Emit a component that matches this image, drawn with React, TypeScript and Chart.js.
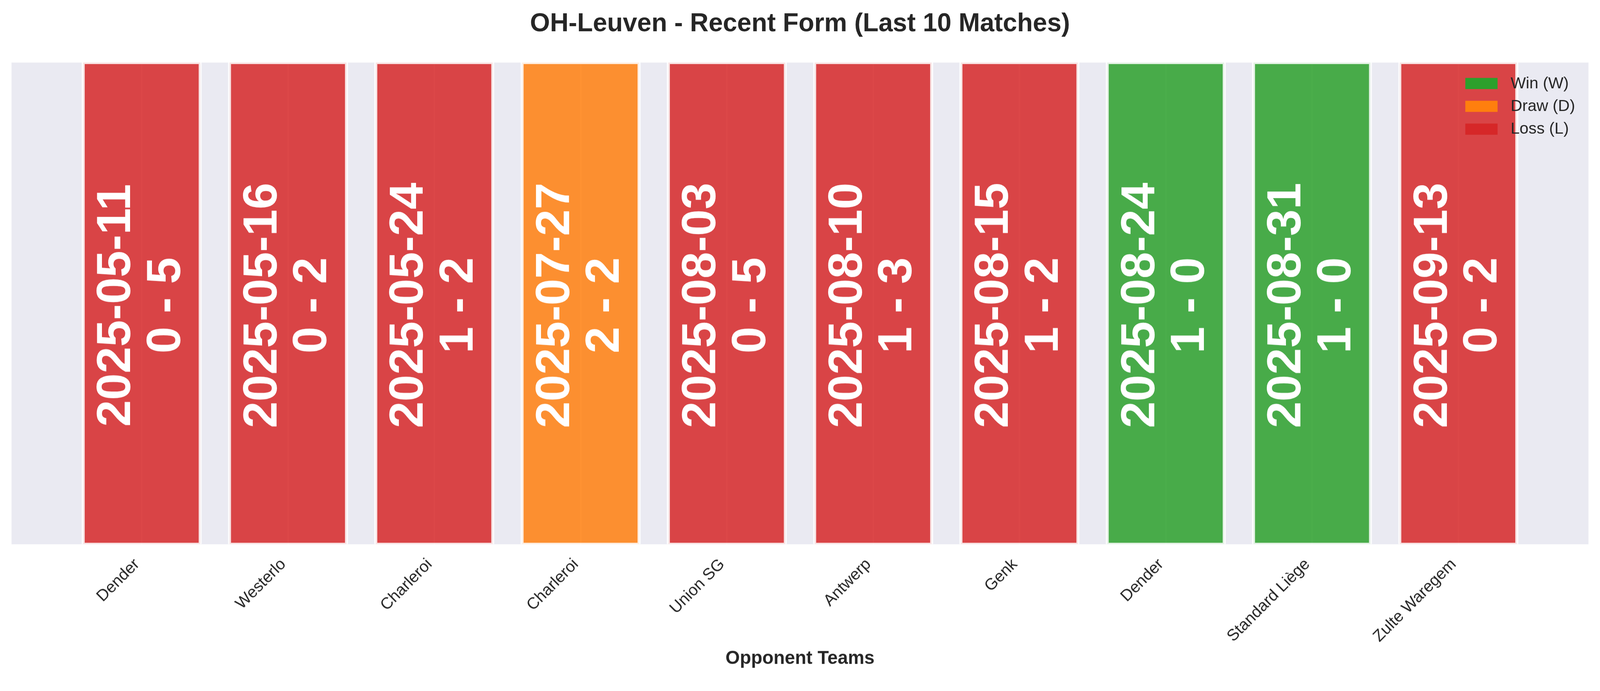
import React, { useEffect, useRef } from 'react';
import { Chart, registerables } from 'chart.js';

Chart.register(...registerables);

// ---------------- data ----------------
const teams = ['Dender', 'Westerlo', 'Charleroi', 'Charleroi', 'Union SG', 'Antwerp', 'Genk', 'Dender', 'Standard Liège', 'Zulte Waregem'];
const matchDates = ['2025-05-11', '2025-05-16', '2025-05-24', '2025-07-27', '2025-08-03', '2025-08-10', '2025-08-15', '2025-08-24', '2025-08-31', '2025-09-13'];
const scores = ['0 - 5', '0 - 2', '1 - 2', '2 - 2', '0 - 5', '1 - 3', '1 - 2', '1 - 0', '1 - 0', '0 - 2'];
const results = ['L', 'L', 'L', 'D', 'L', 'L', 'L', 'W', 'W', 'L'];
const barHeights = [1, 1, 1, 1, 1, 1, 1, 1, 1, 1];
const legendKeys = ['W', 'D', 'L'];
const legendLabels = ['Win (W)', 'Draw (D)', 'Loss (L)'];
const chartTitle = 'OH-Leuven - Recent Form (Last 10 Matches)';
const xAxisTitle = 'Opponent Teams';

// ---------------- style ----------------
const W = 4170;
const H = 1769;
const FONT = "'Liberation Sans', Arial, Helvetica, sans-serif";
const TEXT = '#262626';
const AX_BG = [234, 234, 242];
const BASE: Record<string, number[]> = { W: [44, 160, 44], D: [255, 127, 14], L: [214, 39, 40] };
const ALPHA = 0.85;
const AREA = { left: 30, right: 4140, top: 163, bottom: 1418 };
const X_MIN = -0.89;
const X_MAX = 9.89;
const UNIT_PX = (AREA.right - AREA.left) / (X_MAX - X_MIN);
const EDGE = 4;

const mix = (c: number[], under: number[], a: number) => c.map((v, i) => Math.round(a * v + (1 - a) * under[i]));
const rgb = (c: number[]) => `rgb(${c.join(',')})`;
const rgba = (c: number[], a: number) => `rgba(${c.join(',')},${a})`;
const faceOnBg = (k: string) => mix(BASE[k], AX_BG, ALPHA);
const innerEdge = (k: string) => mix([255, 255, 255], faceOnBg(k), ALPHA);

const bgPlugin = {
  id: 'axesBg',
  beforeDraw(chart: any) {
    const { ctx, chartArea } = chart;
    ctx.save();
    ctx.fillStyle = '#ffffff';
    ctx.fillRect(0, 0, chart.width, chart.height);
    ctx.fillStyle = rgb(AX_BG);
    ctx.fillRect(chartArea.left, chartArea.top, chartArea.right - chartArea.left, chartArea.bottom - chartArea.top);
    ctx.restore();
  },
};

const annotatePlugin = {
  id: 'annotate',
  afterDatasetsDraw(chart: any) {
    const { ctx } = chart;
    const meta = chart.getDatasetMeta(0);
    const ys = chart.scales.y;
    const cy = ys.getPixelForValue(0.5);
    ctx.save();
    ctx.fillStyle = '#ffffff';
    ctx.font = `bold 125px ${FONT}`;
    ctx.textAlign = 'center';
    ctx.textBaseline = 'alphabetic';
    meta.data.forEach((bar: any, i: number) => {
      ctx.save();
      ctx.translate(bar.x, cy + 5);
      ctx.rotate(-Math.PI / 2);
      ctx.fillText(matchDates[i], 0, -30);
      ctx.fillText(scores[i], 0, 100);
      ctx.restore();
    });
    ctx.restore();

    // legend (inside axes, upper right, no frame)
    ctx.save();
    ctx.font = `42px ${FONT}`;
    ctx.textAlign = 'left';
    ctx.textBaseline = 'middle';
    legendKeys.forEach((k, i) => {
      const yc = 217 + i * 59.5;
      ctx.fillStyle = rgb(BASE[k]);
      ctx.fillRect(3819, yc - 14, 84, 29);
      ctx.fillStyle = TEXT;
      ctx.fillText(legendLabels[i], 3937, yc + 1);
    });
    ctx.restore();
  },
  afterDraw(chart: any) {
    const { ctx, chartArea } = chart;
    const cx = (chartArea.left + chartArea.right) / 2;
    ctx.save();
    ctx.fillStyle = TEXT;
    ctx.textAlign = 'center';
    ctx.textBaseline = 'alphabetic';
    ctx.font = `bold 67px ${FONT}`;
    ctx.fillText(chartTitle, cx, 81);
    ctx.font = `bold 48px ${FONT}`;
    ctx.fillText(xAxisTitle, cx, 1730);
    ctx.restore();
  },
};

export default function App() {
  const ref = useRef<HTMLCanvasElement | null>(null);
  const fit = typeof window !== 'undefined' ? Math.min(window.innerWidth / W, window.innerHeight / H) : 1;
  useEffect(() => {
    document.body.style.margin = '0';
    document.body.style.overflow = 'hidden';
    const canvas = ref.current;
    if (!canvas) return;
    const dpr = (window.devicePixelRatio || 1) * fit;
    const points = barHeights.map((v, i) => ({ x: i, y: v }));
    const chart = new Chart(canvas, {
      type: 'bar',
      data: {
        datasets: [
          {
            label: 'form',
            data: points,
            backgroundColor: results.map((r) => rgba(BASE[r], ALPHA)),
            borderColor: results.map((r) => rgb(innerEdge(r))),
            borderWidth: EDGE,
            borderSkipped: false,
            barPercentage: 0.8,
            categoryPercentage: 1,
            grouped: false,
          } as any,
          {
            label: 'edge',
            data: points,
            backgroundColor: 'rgba(0,0,0,0)',
            borderColor: 'rgba(255,255,255,0.85)',
            borderWidth: EDGE,
            borderSkipped: false,
            barPercentage: 0.8 + (2 * EDGE) / UNIT_PX,
            categoryPercentage: 1,
            grouped: false,
          } as any,
        ],
      },
      options: {
        responsive: false,
        animation: false,
        devicePixelRatio: dpr,
        layout: { padding: { left: AREA.left, right: W - AREA.right, top: AREA.top, bottom: 0 } },
        plugins: {
          legend: { display: false },
          title: { display: false },
          tooltip: { enabled: false },
        },
        events: [],
        scales: {
          x: {
            type: 'linear',
            min: X_MIN,
            max: X_MAX,
            offset: false,
            afterBuildTicks: (s: any) => {
              s.ticks = teams.map((_, i) => ({ value: i }));
            },
            afterFit: (s: any) => {
              s.height = H - AREA.bottom;
              s.paddingLeft = 0;
              s.paddingRight = 0;
            },
            grid: { offset: false, color: '#ffffff', lineWidth: 3.5, drawTicks: false, tickLength: 0 },
            border: { display: false },
            ticks: {
              autoSkip: false,
              minRotation: 45,
              maxRotation: 45,
              padding: 28,
              labelOffset: -12,
              color: TEXT,
              font: { family: FONT, size: 42 },
              callback: (v: any) => teams[v as number] ?? '',
            },
          } as any,
          y: { display: false, min: 0, max: 1 },
        },
      },
      plugins: [bgPlugin, annotatePlugin],
    });
    return () => chart.destroy();
  }, []);
  return (
    <div
      style={{
        position: 'absolute',
        left: 0,
        top: 0,
        width: W,
        height: H,
        transform: `scale(${fit})`,
        transformOrigin: '0 0',
      }}
    >
      <canvas ref={ref} width={W} height={H} style={{ width: W, height: H, display: 'block' }} />
    </div>
  );
}
